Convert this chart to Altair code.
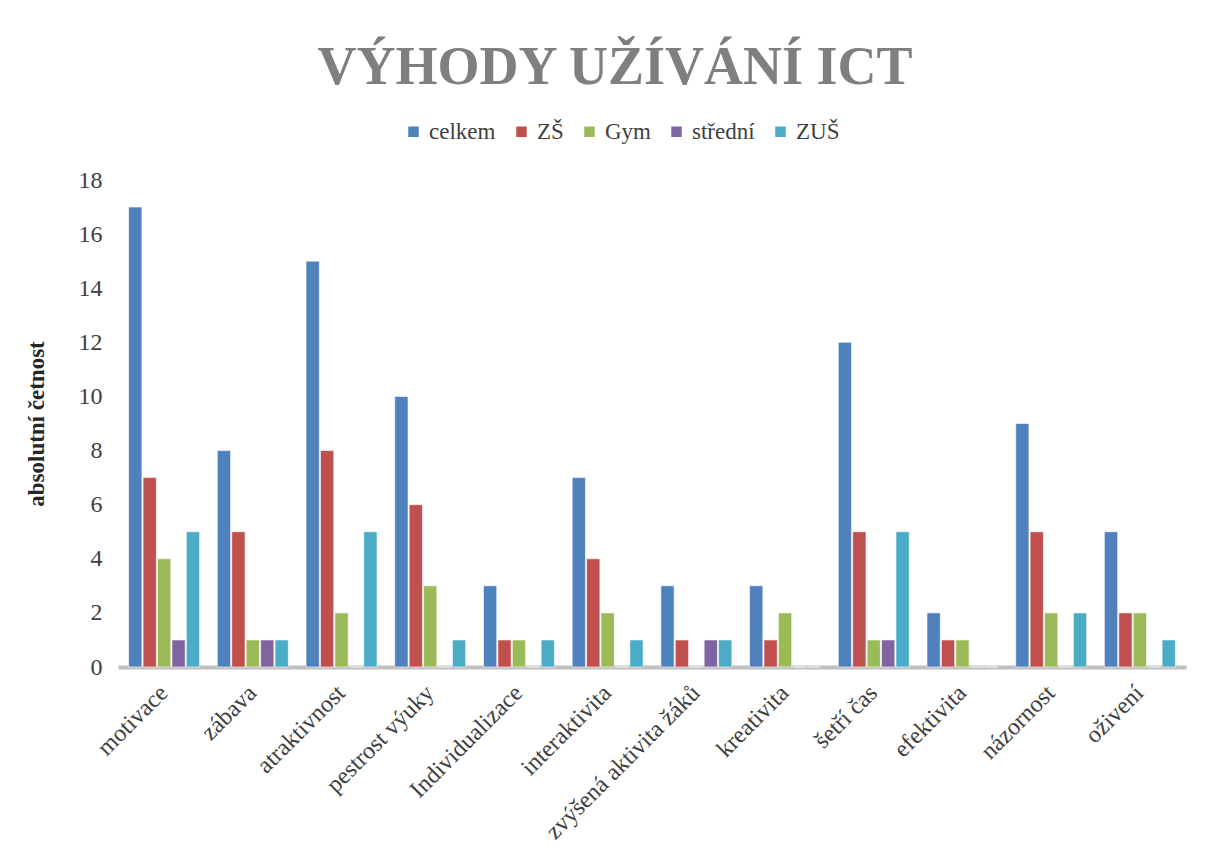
import altair as alt
import pandas as pd

categories = ["motivace", "zábava", "atraktivnost", "pestrost výuky", "Individualizace",
              "interaktivita", "zvýšená aktivita žáků", "kreativita", "šetří čas",
              "efektivita", "názornost", "oživení"]
series = ["celkem", "ZŠ", "Gym", "střední", "ZUŠ"]
celkem = [17, 8, 15, 10, 3, 7, 3, 3, 12, 2, 9, 5]
zs = [7, 5, 8, 6, 1, 4, 1, 1, 5, 1, 5, 2]
gym = [4, 1, 2, 3, 1, 2, 0, 2, 1, 1, 2, 2]
stredni = [1, 1, 0, 0, 0, 0, 1, 0, 1, 0, 0, 0]
zus = [5, 1, 5, 1, 1, 1, 1, 0, 5, 0, 2, 1]
colors = ["#4F81BD", "#C0504D", "#9BBB59", "#8064A2", "#4BACC6"]

rows = []
for s, vals in zip(series, [celkem, zs, gym, stredni, zus]):
    for c, v in zip(categories, vals):
        rows.append({"kategorie": c, "skupina": s, "hodnota": v})
df = pd.DataFrame(rows)

FONT = "Liberation Serif"

chart = alt.Chart(df).mark_bar(stroke="white", strokeWidth=0.6).encode(
    x=alt.X("kategorie:N", sort=categories, title=None,
            scale=alt.Scale(paddingInner=0.2, paddingOuter=0.12),
            axis=alt.Axis(labelAngle=-45, labelAlign="right", labelBaseline="middle",
                          labelFont=FONT, labelFontSize=24, labelColor="#404040",
                          labelPadding=22, labelOffset=0, ticks=False,
                          domainColor="#BFBFBF", domainWidth=4, labelLimit=400)),
    xOffset=alt.XOffset("skupina:N", sort=series,
                        scale=alt.Scale(paddingInner=0.08)),
    y=alt.Y("hodnota:Q", title="absolutní četnost",
            scale=alt.Scale(domain=[0, 18]),
            axis=alt.Axis(values=list(range(0, 19, 2)), grid=False, domain=False,
                          ticks=False, labelFont=FONT, labelFontSize=24,
                          labelColor="#404040", labelPadding=16,
                          titleFont=FONT, titleFontSize=23, titleFontWeight="bold",
                          titleColor="#262626", titlePadding=30)),
    color=alt.Color("skupina:N", sort=series,
                    scale=alt.Scale(domain=series, range=colors),
                    legend=alt.Legend(title=None, orient="none", direction="horizontal",
                                      legendX=284, legendY=-60,
                                      symbolType="square", symbolSize=110,
                                      symbolStrokeWidth=0, labelFont=FONT,
                                      labelFontSize=23, labelColor="#404040",
                                      columnPadding=14, symbolOffset=0)),
).properties(
    width=1068,
    height=487,
    title=alt.TitleParams("VÝHODY UŽÍVÁNÍ ICT", font=FONT, fontSize=54,
                          fontWeight="bold", color="#7F7F7F", anchor="middle",
                          offset=25, dx=-37),
    autosize=alt.AutoSizeParams(type="none"),
    padding={"left": 110, "top": 172, "right": 13, "bottom": 178},
).configure(
    font=FONT, background="white"
).configure_legend(
    labelFont=FONT
).configure_view(stroke=None)

chart.save("out.html", embed_options={"renderer": "svg", "actions": False})
